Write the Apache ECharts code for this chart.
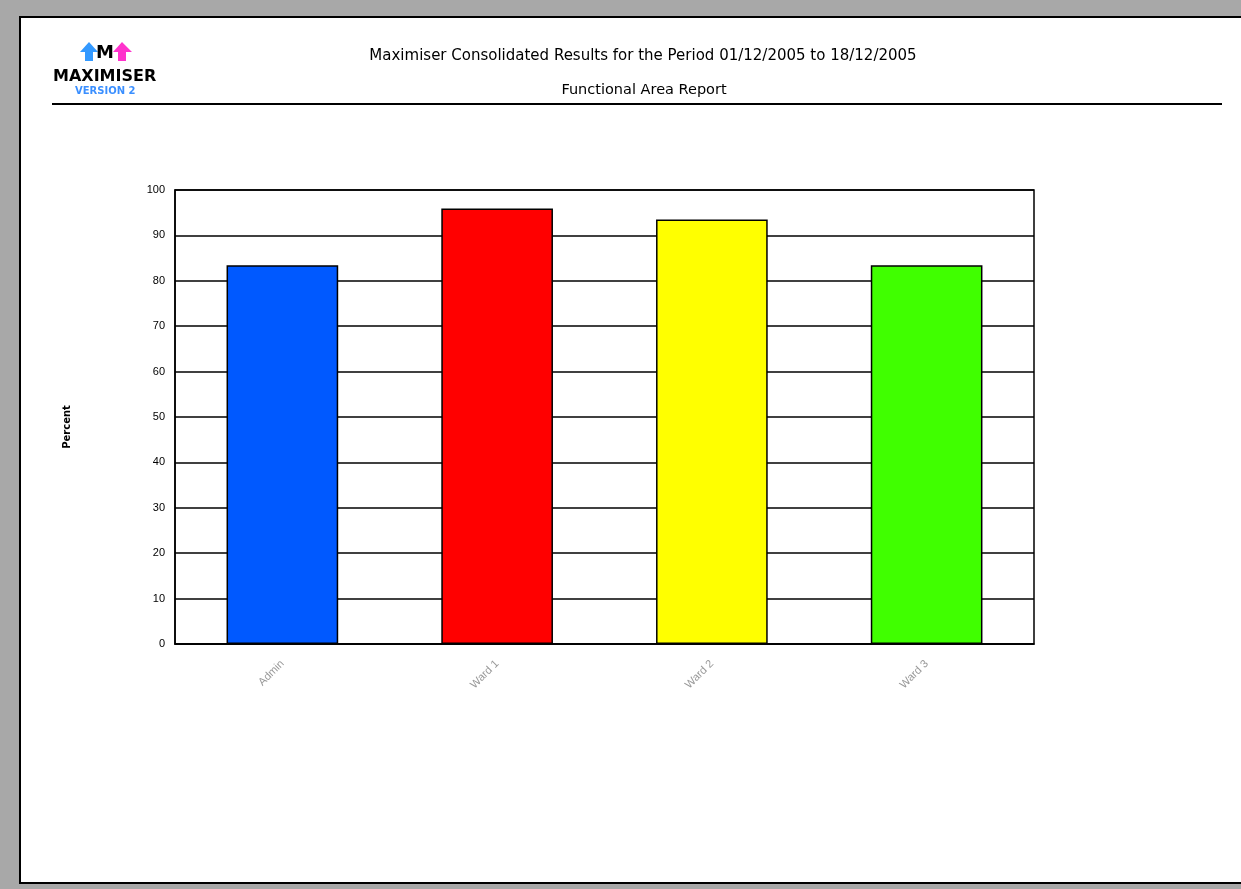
<!DOCTYPE html>
<html>
<head>
<meta charset="utf-8">
<script src="https://cdn.jsdelivr.net/npm/echarts@6/dist/echarts.min.js"></script>
<style>
  html, body { margin: 0; padding: 0; background: #a8a8a8; }
  #chart { width: 1241px; height: 889px; }
</style>
</head>
<body>
<div id="chart"></div>
<script>
// 数据
var categories = ['Admin', 'Ward 1', 'Ward 2', 'Ward 3'];
var percentValues = [83.4, 95.9, 93.5, 83.4];
var barColors = ['#0059ff', '#ff0000', '#ffff00', '#40ff00'];
var yTicks = { min: 0, max: 100, interval: 10 };

var chart = echarts.init(document.getElementById('chart'));

var option = {
  backgroundColor: '#a8a8a8',
  animation: false,
  title: [
    {
      text: 'Maximiser Consolidated Results for the Period 01/12/2005 to 18/12/2005',
      left: 638, top: 44, textAlign: 'center',
      textStyle: { fontFamily: 'DejaVu Sans', fontSize: 15, fontWeight: 'normal', color: '#000' }
    },
    {
      text: 'Functional Area Report',
      left: 639, top: 78, textAlign: 'center',
      textStyle: { fontFamily: 'DejaVu Sans', fontSize: 14.5, fontWeight: 'normal', color: '#000' }
    }
  ],
  graphic: [
    // 页面
    {
      type: 'rect', z: -10, silent: true,
      shape: { x: 20, y: 17, width: 1240, height: 866 },
      style: { fill: '#ffffff', stroke: '#000', lineWidth: 2 }
    },
    // 标题下横线
    {
      type: 'line', silent: true,
      shape: { x1: 52, y1: 104, x2: 1222, y2: 104 },
      style: { stroke: '#000', lineWidth: 2 }
    },
    // logo
    {
      type: 'polygon', silent: true,
      shape: { points: [[80, 52], [89, 42], [98, 52], [93, 52], [93, 61], [85, 61], [85, 52]] },
      style: { fill: '#3399ff' }
    },
    {
      type: 'polygon', silent: true,
      shape: { points: [[113, 52], [122, 42], [132, 52], [126, 52], [126, 61], [118, 61], [118, 52]] },
      style: { fill: '#ff33cc' }
    },
    {
      type: 'text', silent: true, left: 96, top: 44,
      style: { text: 'M', fill: '#000', font: '900 18px "DejaVu Sans"' }
    },
    {
      type: 'text', silent: true, left: 53, top: 69,
      style: { text: 'MAXIMISER', fill: '#000', font: '900 16px "DejaVu Sans"' }
    },
    {
      type: 'text', silent: true, left: 75, top: 86,
      style: { text: 'VERSION 2', fill: '#3a8fff', font: 'bold 10px "DejaVu Sans"' }
    }
  ],
  grid: {
    left: 175, top: 190, width: 859, height: 454,
    show: true, backgroundColor: '#fff', borderColor: '#000', borderWidth: 1.5
  },
  xAxis: {
    type: 'category',
    data: categories,
    axisLine: { show: true, lineStyle: { color: '#000', width: 1.5 } },
    axisTick: { show: false },
    axisLabel: {
      rotate: 45, margin: 18, color: '#999',
      fontFamily: 'Liberation Sans', fontSize: 11
    }
  },
  yAxis: {
    type: 'value',
    min: yTicks.min, max: yTicks.max, interval: yTicks.interval,
    name: 'Percent',
    nameLocation: 'middle',
    nameRotate: 90,
    nameGap: 103,
    nameTextStyle: {
      fontFamily: 'DejaVu Sans', fontSize: 10, fontWeight: 'bold', color: '#000',
      padding: [0, 20, 0, 0]
    },
    axisLine: { show: true, lineStyle: { color: '#000', width: 1.5 } },
    axisTick: { show: false },
    splitLine: { show: true, lineStyle: { color: '#000', width: 1.5 } },
    axisLabel: { margin: 10, color: '#000', fontFamily: 'Liberation Sans', fontSize: 11 }
  },
  series: [
    {
      type: 'bar',
      barWidth: '52%',
      data: percentValues.map(function (v, i) {
        return { value: v, itemStyle: { color: barColors[i] } };
      }),
      itemStyle: { borderColor: '#000', borderWidth: 1.5 }
    }
  ]
};

chart.setOption(option);
</script>
</body>
</html>
